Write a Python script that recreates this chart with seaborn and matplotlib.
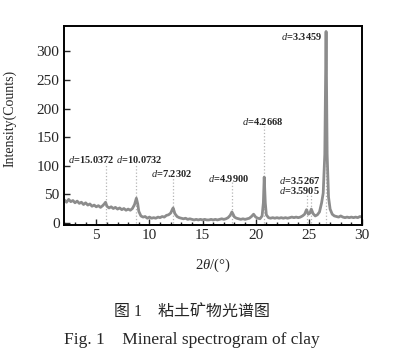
import matplotlib
matplotlib.use('Agg')
import matplotlib.pyplot as plt
import seaborn as sns
from matplotlib.ticker import MultipleLocator

# XRD pattern (2theta in degrees, counts)
two_theta = [2.0, 2.2, 2.4, 2.6, 2.8, 3.0, 3.2, 3.4, 3.6, 3.8, 4.0, 4.2, 4.4, 4.6, 4.8,
             5.0, 5.2, 5.4, 5.6, 5.75, 5.87, 6.0, 6.2, 6.4, 6.6, 6.8, 7.0, 7.2, 7.4, 7.6,
             7.8, 8.0, 8.2, 8.4, 8.6, 8.77, 8.9, 9.0, 9.2, 9.4, 9.6, 9.8, 10.0, 10.2, 10.4,
             10.6, 10.8, 11.0, 11.2, 11.4, 11.6, 11.8, 12.0, 12.12, 12.23, 12.4, 12.6, 12.8,
             13.0, 13.2, 13.4, 13.6, 13.8, 14.0, 14.2, 14.4, 14.6, 14.8, 15.0, 15.2, 15.4,
             15.6, 15.8, 16.0, 16.2, 16.4, 16.6, 16.8, 17.0, 17.2, 17.4, 17.6, 17.76, 17.9,
             18.0, 18.2, 18.4, 18.6, 18.8, 19.0, 19.2, 19.4, 19.6, 19.8, 20.0, 20.2, 20.4,
             20.6, 20.72, 20.8, 20.9, 21.0, 21.2, 21.4, 21.6, 21.8, 22.0, 22.2, 22.4, 22.6,
             22.8, 23.0, 23.2, 23.4, 23.6, 23.8, 24.0, 24.2, 24.4, 24.6, 24.78, 24.95, 25.1,
             25.23, 25.4, 25.6, 25.8, 26.0, 26.2, 26.35, 26.5, 26.62, 26.72, 26.85, 27.0,
             27.2, 27.4, 27.6, 27.8, 28.0, 28.2, 28.4, 28.6, 28.8, 29.0, 29.2, 29.4, 29.6,
             29.8, 30.0]
intensity = [40, 36, 41, 37, 39, 35, 38, 34, 36, 32, 35, 31, 33, 29, 31,
             28, 30, 27, 30, 33, 36, 29, 26, 28, 25, 27, 24, 26, 23, 25,
             22, 24, 22, 25, 32, 43, 33, 20, 12, 10, 11, 8, 10, 8, 9,
             8, 10, 9, 11, 10, 13, 14, 17, 22, 26, 16, 11, 9,
             8, 7, 8, 6, 7, 6, 5, 6, 5, 6, 5, 6, 5,
             5, 6, 5, 6, 5, 6, 7, 6, 7, 9, 13, 19, 14,
             10, 8, 7, 6, 7, 6, 7, 8, 11, 15, 10, 8, 7,
             12, 35, 80, 35, 14, 9, 8, 9, 8, 9, 8, 9, 8,
             9, 8, 9, 10, 9, 10, 9, 10, 12, 15, 23, 15, 17,
             24, 16, 12, 14, 19, 35, 52, 120, 335, 120, 45, 24,
             15, 12, 11, 10, 12, 10, 9, 10, 9, 10, 9, 10, 9,
             11, 10]

# d-spacing annotations
peak_labels = ['15.0372', '10.0732', '7.2302', '4.9900', '4.2668', '3.5905', '3.5267', '3.3459']
peak_pos = [5.87, 8.77, 12.23, 17.76, 20.80, 24.78, 25.23, 26.62]
line_top = [104, 104, 81, 71, 170, 50, 50, 332]
label_x = [2.36, 6.82, 10.12, 15.54, 18.74, 22.2, 22.2, 22.39]
label_y = [110, 110, 87, 77, 177, 56, 74, 326]

sns.set_style('ticks')
plt.rcParams['font.family'] = ['Liberation Serif', 'Noto Sans CJK SC']
plt.rcParams['mathtext.fontset'] = 'custom'
plt.rcParams['mathtext.rm'] = 'Liberation Serif'
plt.rcParams['mathtext.it'] = 'Liberation Serif:italic'

fig = plt.figure(figsize=(4, 3.53), dpi=100)
ax = fig.add_axes([0.161, 0.364, 0.744, 0.563])

ax.vlines(peak_pos, 0, line_top, colors='#b5b5b5', linestyles=':', linewidth=0.9)
sns.lineplot(x=two_theta, y=intensity, ax=ax, color='#8c8c8c', linewidth=2.0)

for lab, lx, ly in zip(peak_labels, label_x, label_y):
    ax.text(lx, ly, r'$d$=' + lab, fontsize=7.5, fontweight='bold', va='center', ha='left')

ax.set_xlim(2, 30)
ax.set_ylim(-3, 345)
ax.xaxis.set_major_locator(MultipleLocator(5))
ax.xaxis.set_minor_locator(MultipleLocator(1))
ax.yaxis.set_major_locator(MultipleLocator(50))
ax.tick_params(which='both', direction='in', top=False, right=False, labelsize=11, width=1)
ax.tick_params(which='major', length=4)
ax.tick_params(which='minor', length=2)
for s in ax.spines.values():
    s.set_visible(True)
    s.set_linewidth(1.4)
    s.set_color('black')

ax.set_xlabel(r'2$\theta$/(°)', fontsize=10.5)
ax.set_ylabel('Intensity(Counts)', fontsize=10)
ax.xaxis.set_label_coords(0.5, -0.163)
ax.yaxis.set_label_coords(-0.16, 0.536)

fig.text(0.479, 0.117, '图 1    粘土矿物光谱图', ha='center', va='center', fontsize=11.5)
fig.text(0.479, 0.037, 'Fig. 1    Mineral spectrogram of clay', ha='center', va='center', fontsize=12.5)

fig.savefig('out.png', dpi=100)
